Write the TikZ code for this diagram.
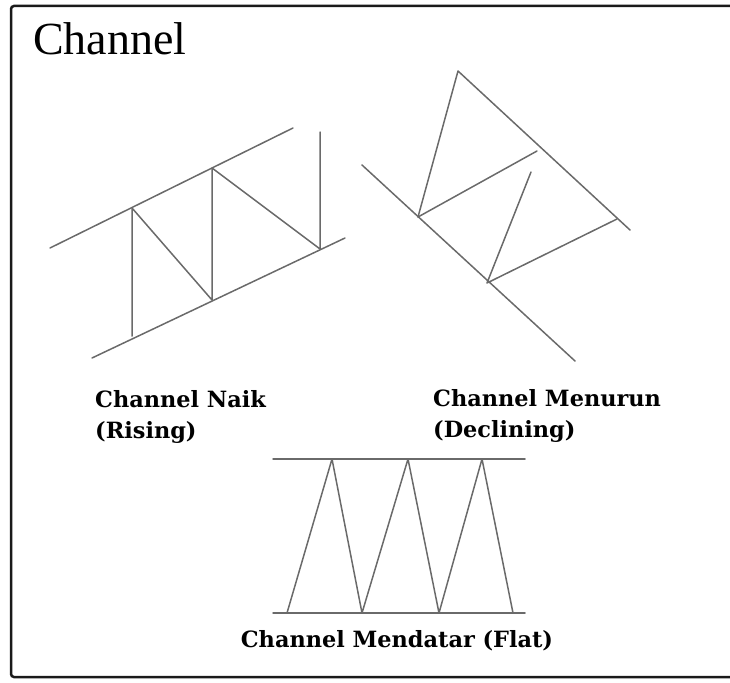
\documentclass[tikz,border=0pt]{standalone}
\usepackage{fontspec}
\setmainfont{Liberation Serif}
\newfontfamily\labelfont{DejaVu Serif}
\usepackage{xcolor}
\usepackage{tikz}
\usetikzlibrary{positioning,calc}
\definecolor{ink}{HTML}{6A6A6A}
\definecolor{frame}{HTML}{1A1A1A}
\begin{document}
\begin{tikzpicture}[
  x=1pt,y=-1pt,
  chline/.style={draw=ink,line width=1.5pt,line join=round,line cap=round},
  edge/.style={draw=frame,line width=2.5pt,rounded corners=3pt},
  label/.style={inner sep=0pt,align=left,font=\labelfont\bfseries\fontsize{22.4}{31}\selectfont},
  heading/.style={inner sep=0pt,font=\fontsize{46}{50}\selectfont}]
  \useasboundingbox (0,0) rectangle (730,682);
  \draw[edge] (750,6) -- (11,6) -- (11,677) -- (750,677);
  \node[heading,anchor=base west] (title) at (33,55) {Channel};
  % rising
  \coordinate (ru1) at (50,248);   \coordinate (ru2) at (293,128);
  \coordinate (rl1) at (92,358);   \coordinate (rl2) at (345,238);
  \coordinate (r1) at (132,208);   \coordinate (r0) at (132,336);
  \coordinate (r2) at (212,300);   \coordinate (r3) at (212,168);
  \coordinate (r4) at (320,249);   \coordinate (r5) at (320,132);
  \draw[chline] (ru1) -- (ru2);
  \draw[chline] (rl1) -- (rl2);
  \draw[chline] (r0) -- (r1) -- (r2) -- (r3) -- (r4) -- (r5);
  % declining
  \coordinate (du1) at (458,71);   \coordinate (du2) at (630,230);
  \coordinate (dl1) at (362,165);  \coordinate (dl2) at (575,361);
  \coordinate (d1) at (418,217);   \coordinate (d2) at (537,151);
  \coordinate (d3) at (531,172);   \coordinate (d4) at (487,283);
  \coordinate (d5) at (617,219);
  \draw[chline] (d1) -- (du1) -- (du2);
  \draw[chline] (dl1) -- (dl2);
  \draw[chline] (d1) -- (d2);
  \draw[chline] (d3) -- (d4) -- (d5);
  % flat
  \coordinate (fu1) at (273,459);  \coordinate (fu2) at (525,459);
  \coordinate (fl1) at (273,613);  \coordinate (fl2) at (525,613);
  \draw[chline] (fu1) -- (fu2);
  \draw[chline] (fl1) -- (fl2);
  \draw[chline] (287,613) -- (332,459) -- (362,613) -- (408,459)
    -- (439,613) -- (482,459) -- (513,613);
  \node[label,anchor=north west] (rising) at (95,390) {Channel Naik\\(Rising)};
  \node[label,anchor=north west] (declining) at (433,389) {Channel Menurun\\(Declining)};
  \node[label,anchor=base] (flat) at (397,647) {Channel Mendatar (Flat)};
\end{tikzpicture}
\end{document}
